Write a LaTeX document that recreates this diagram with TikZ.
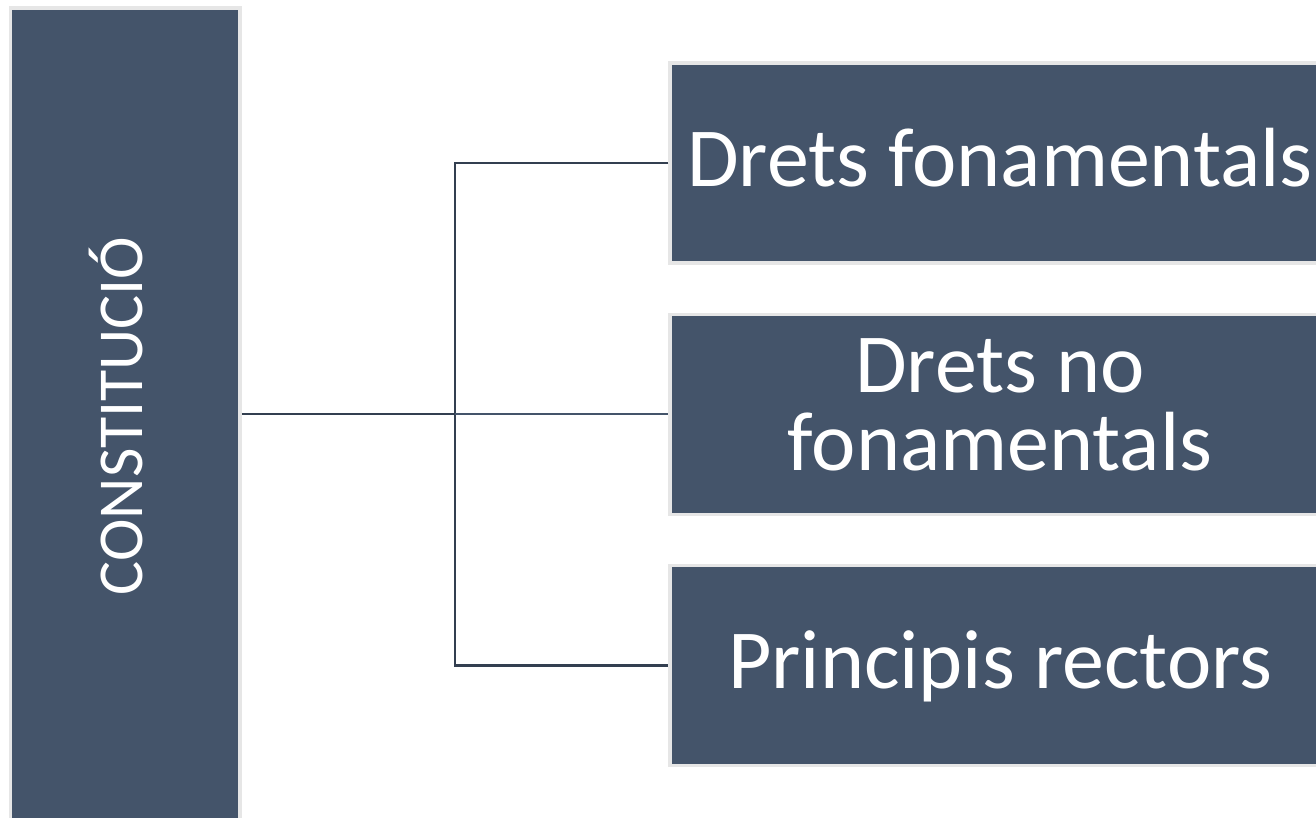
\documentclass[tikz,border=0pt]{standalone}
\usepackage{fontspec}
\setmainfont{Carlito}
\definecolor{boxfill}{HTML}{44546A}
\definecolor{boxedge}{HTML}{E6E6E6}
\definecolor{linec}{HTML}{333F50}
\definecolor{linec2}{HTML}{44546A}
\tikzset{
  box/.style={draw=boxedge, line width=3.5pt, fill=boxfill, inner sep=0pt, minimum width=660pt, minimum height=200pt},
  rootbox/.style={draw=boxedge, line width=3.5pt, fill=boxfill, inner sep=0pt, minimum width=229.5pt, minimum height=812pt},
  bigtxt/.style={text=white, inner sep=0pt, anchor=base, font=\fontsize{84}{78}\selectfont},
  roottxt/.style={text=white, inner sep=0pt, anchor=base, rotate=90, font=\fontsize{64}{70}\selectfont},
  conn/.style={draw=linec, line width=2.5pt},
  conn2/.style={draw=linec2, line width=2.5pt}
}
\begin{document}
\begin{tikzpicture}[x=1pt,y=-1pt]
\useasboundingbox (0,0) rectangle (1316,818);
\node[rootbox] (root) at (125.25,414) {};
\node[roottxt] (roottext) at (142.5,416) {CONSTITUCIÓ};
\node[box] (b1) at (1000,163) {};
\node[box] (b2) at (1000,414.5) {};
\node[box] (b3) at (1000,665.5) {};
\node[bigtxt] (t1) at (1000,187) {Drets fonamentals};
\node[bigtxt] (t2a) at (1000,392) {Drets no};
\node[bigtxt] (t2b) at (1000,470) {fonamentals};
\node[bigtxt] (t3) at (1000,688) {Principis rectors};
\coordinate (j) at (455,414);
\draw[conn] (root.east |- j) -- (j);
\draw[conn] (b1.west) -| (j) |- (b3.west);
\draw[conn2] (j) -- (j -| b2.west);
\end{tikzpicture}
\end{document}
